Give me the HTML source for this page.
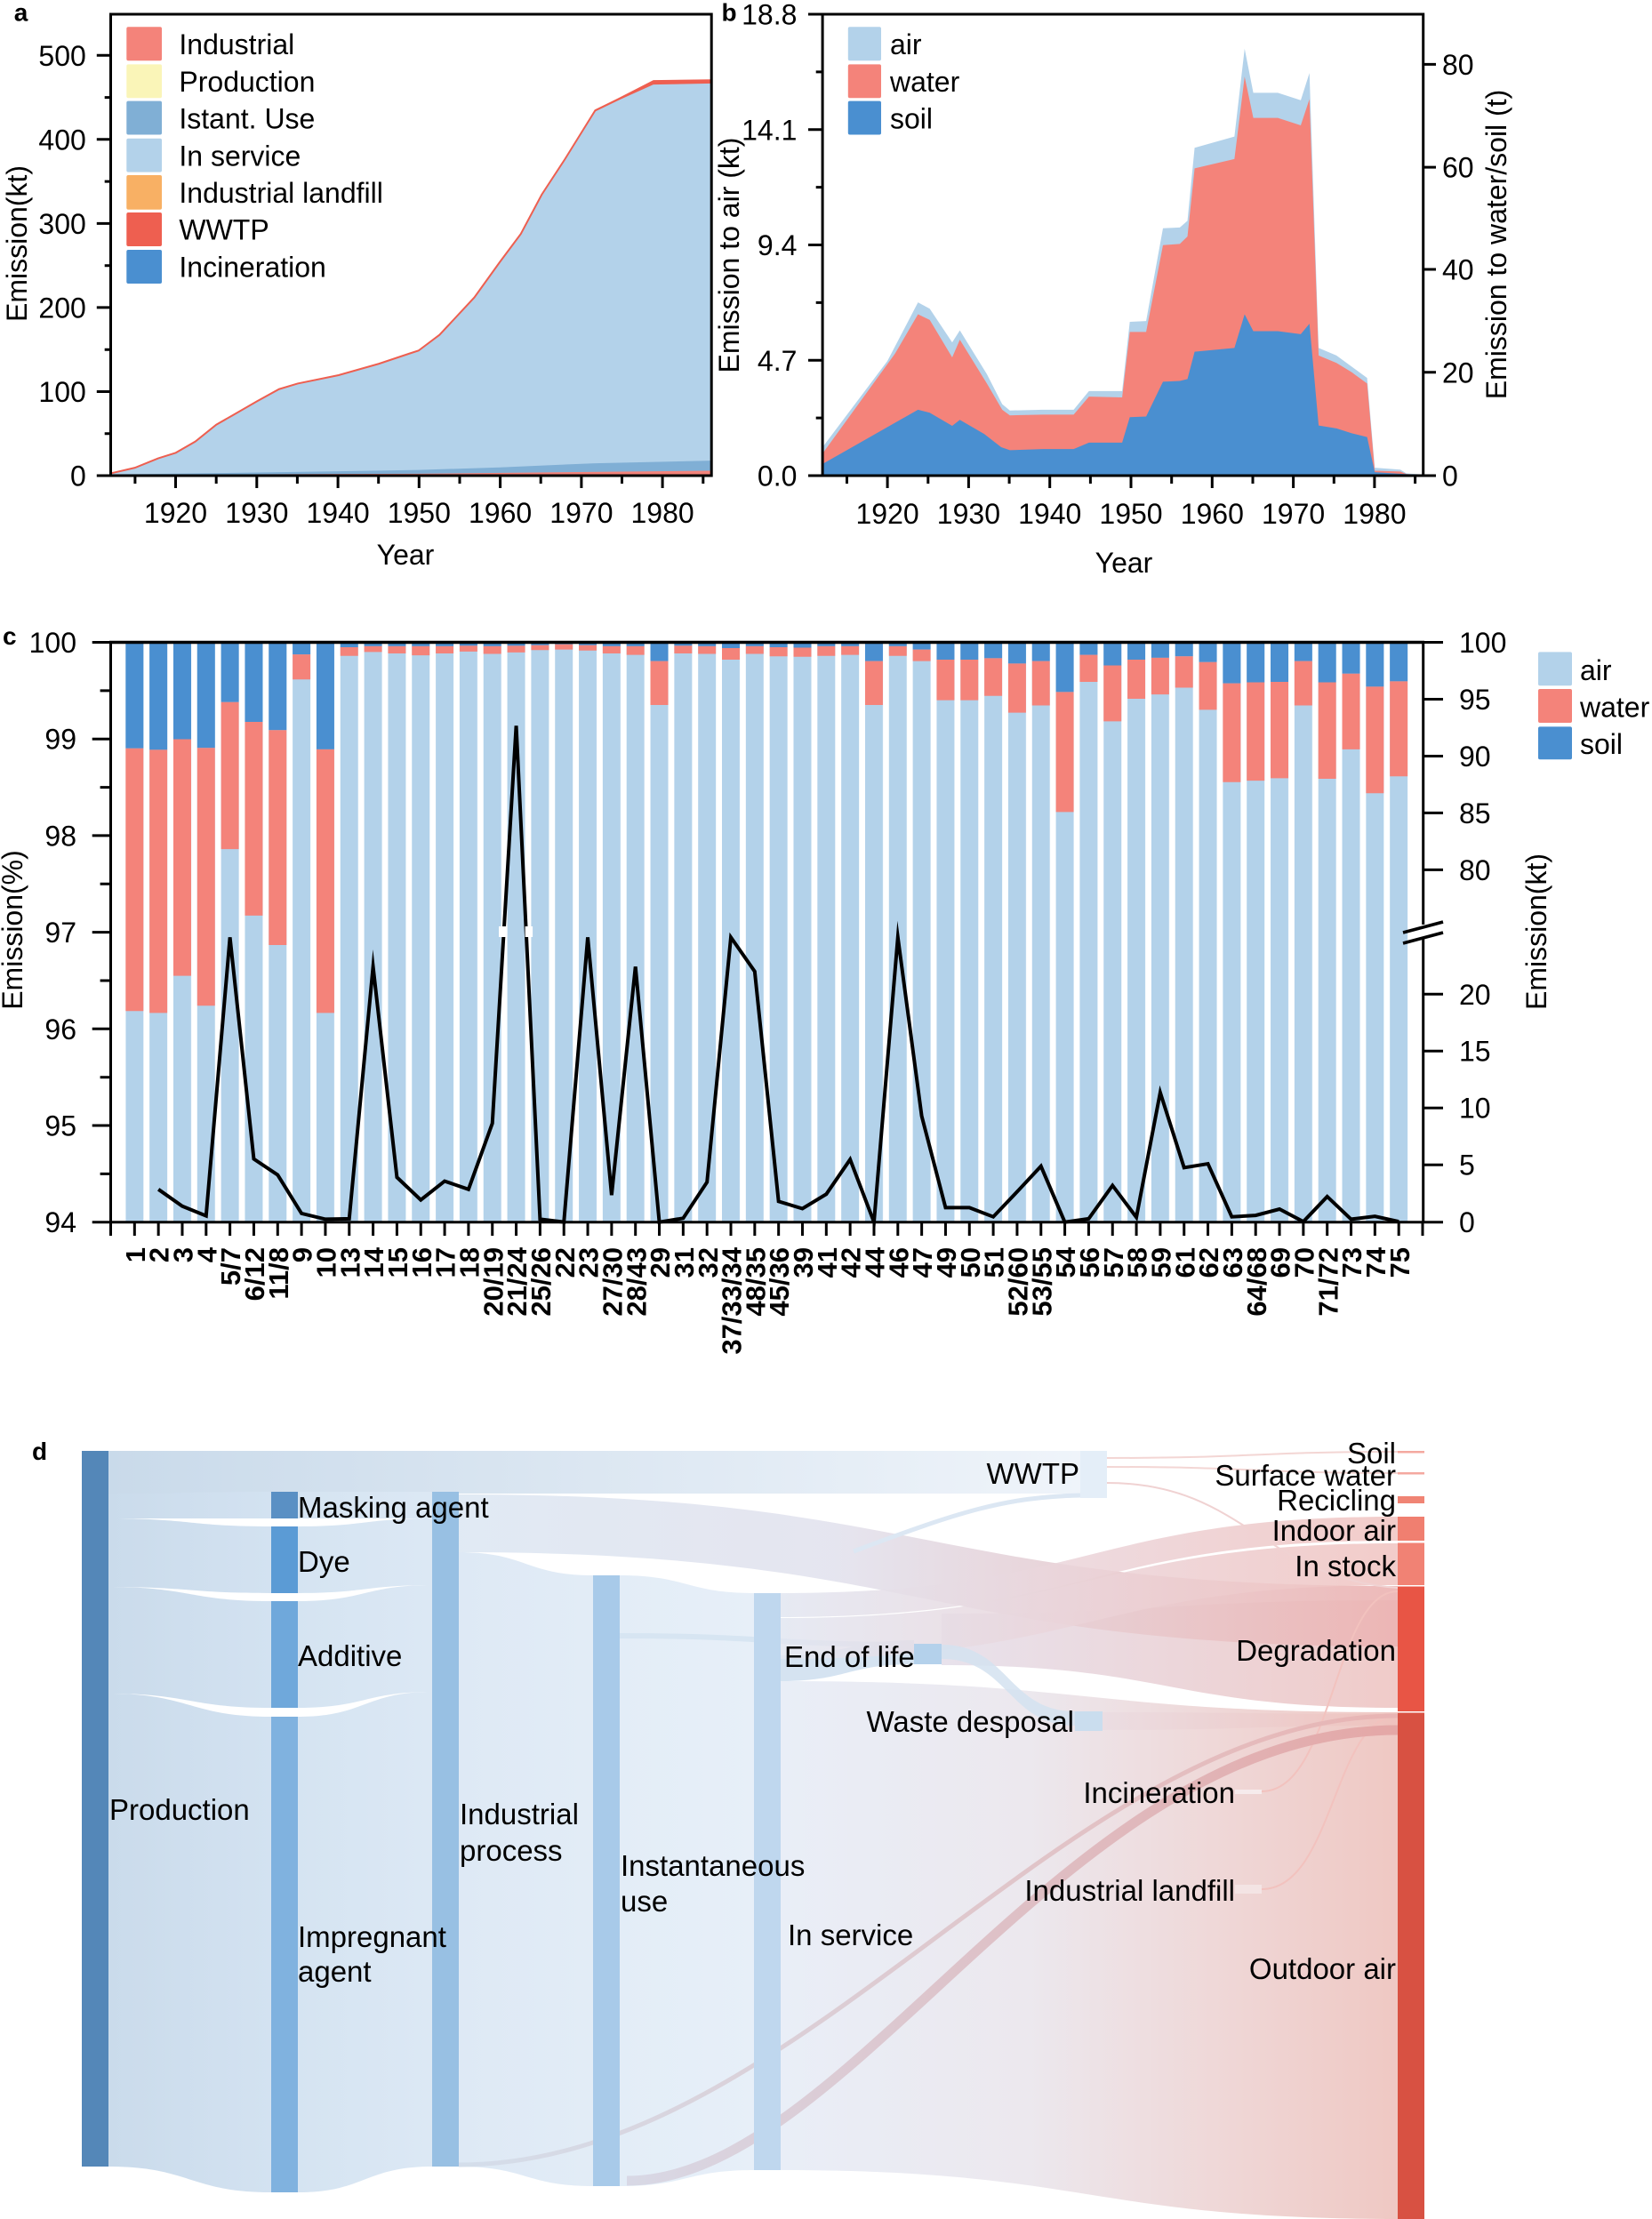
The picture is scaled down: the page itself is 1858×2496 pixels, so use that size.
<!DOCTYPE html>
<html>
<head>
<meta charset="utf-8">
<style>
html,body{margin:0;padding:0;background:#fff;}
body{width:1858px;height:2496px;overflow:hidden;}
svg{display:block;}
</style>
</head>
<body>
<svg width="1858" height="2496" viewBox="0 0 1858 2496" xmlns="http://www.w3.org/2000/svg" font-family="'Liberation Sans', Arial, sans-serif" font-size="32" fill="#000">
<defs>
<pattern id="bp" patternUnits="userSpaceOnUse" x="141.33" y="0" width="26.8273" height="10"><rect x="0" y="0" width="20" height="10" fill="#B3D2EA"/></pattern>
<linearGradient id="gWW" gradientUnits="userSpaceOnUse" x1="122" y1="0" x2="1215" y2="0"><stop offset="0" stop-color="#C9DAEA"/><stop offset="1" stop-color="#EFF4FA"/></linearGradient>
<linearGradient id="gP" gradientUnits="userSpaceOnUse" x1="122" y1="0" x2="305" y2="0"><stop offset="0" stop-color="#CADBEB"/><stop offset="1" stop-color="#D3E2F1"/></linearGradient>
<linearGradient id="gC1" gradientUnits="userSpaceOnUse" x1="335" y1="0" x2="486" y2="0"><stop offset="0" stop-color="#D5E4F2"/><stop offset="1" stop-color="#DCE8F4"/></linearGradient>
<linearGradient id="gIP" gradientUnits="userSpaceOnUse" x1="516" y1="0" x2="667" y2="0"><stop offset="0" stop-color="#DEE9F5"/><stop offset="1" stop-color="#E2ECF6"/></linearGradient>
<linearGradient id="gIU" gradientUnits="userSpaceOnUse" x1="697" y1="0" x2="848" y2="0"><stop offset="0" stop-color="#E3EDF7"/><stop offset="1" stop-color="#E7EFF8"/></linearGradient>
<linearGradient id="gMask" gradientUnits="userSpaceOnUse" x1="516" y1="0" x2="1572" y2="0"><stop offset="0" stop-color="#DEE8F3"/><stop offset="0.4" stop-color="#E3E3EE"/><stop offset="0.7" stop-color="#E8CBCF"/><stop offset="1" stop-color="#ECB4B3"/></linearGradient>
<linearGradient id="gIn" gradientUnits="userSpaceOnUse" x1="878" y1="0" x2="1572" y2="0"><stop offset="0" stop-color="#E2E6F1"/><stop offset="0.5" stop-color="#EBD3D8"/><stop offset="1" stop-color="#F0C3C0"/></linearGradient>
<linearGradient id="gDeg" gradientUnits="userSpaceOnUse" x1="1059" y1="0" x2="1572" y2="0"><stop offset="0" stop-color="#E8E2EC"/><stop offset="1" stop-color="#F0CBC9"/></linearGradient>
<linearGradient id="gOut" gradientUnits="userSpaceOnUse" x1="878" y1="0" x2="1572" y2="0"><stop offset="0" stop-color="#E9EEF7"/><stop offset="0.4" stop-color="#ECE8EE"/><stop offset="0.7" stop-color="#EFD8D8"/><stop offset="1" stop-color="#EFC8C3"/></linearGradient>
<linearGradient id="gWaste" gradientUnits="userSpaceOnUse" x1="1240" y1="0" x2="1572" y2="0"><stop offset="0" stop-color="#EBDDE2"/><stop offset="1" stop-color="#EFC2BD"/></linearGradient>
<linearGradient id="gRib" gradientUnits="userSpaceOnUse" x1="697" y1="0" x2="1572" y2="0"><stop offset="0" stop-color="#D8D9E6"/><stop offset="1" stop-color="#E4A7A6"/></linearGradient>
<linearGradient id="gRib2" gradientUnits="userSpaceOnUse" x1="516" y1="0" x2="1572" y2="0"><stop offset="0" stop-color="#D4DEEB"/><stop offset="1" stop-color="#E8B4B3"/></linearGradient>
</defs>

<!-- ================= PANEL A ================= -->
<g transform="scale(0.523,0.4209)">
  <path d="M238,1271 L238,1265 L290,1250 L340,1225 L378,1210 L420,1180 L465,1135 L500,1110 L553,1072 L600,1040 L640,1025 L727,1003 L815,972 L880,945 L900,937 L945,895 L1020,795 L1075,700 L1120,625 L1165,520 L1215,425 L1280,295 L1330,265 L1405,220 L1530,217 L1530,1271 Z" fill="#B3D2EA"/>
  <polyline points="238,1265 290,1250 340,1225 378,1210 420,1180 465,1135 500,1110 553,1072 600,1040 640,1025 727,1003 815,972 880,945 900,937 945,895 1020,795 1075,700 1120,625 1165,520 1215,425 1280,295 1330,265 1405,220 1530,217" fill="none" stroke="#EE5F50" stroke-width="2" vector-effect="non-scaling-stroke"/>
  <path d="M1280,293 L1330,262 L1405,214 L1530,212 L1530,223 L1405,226 L1330,268 L1280,298 Z" fill="#EE5F50"/>
  <path d="M238,1271 L238,1268 L600,1262 L900,1256 L1075,1249 L1280,1238 L1530,1231 L1530,1271 Z" fill="#80AFD5"/>
  <path d="M238,1271 L238,1269 L900,1266 L1530,1258 L1530,1271 Z" fill="#F4837A"/>
</g>
<rect x="124.5" y="16" width="675.7" height="519" fill="none" stroke="#000" stroke-width="3"/>
<path d="M108.8,535H124.5M108.8,440.5H124.5M108.8,345.9H124.5M108.8,251.4H124.5M108.8,156.8H124.5M108.8,62.3H124.5M117.7,487.7H124.5M117.7,393.2H124.5M117.7,298.7H124.5M117.7,204.1H124.5M117.7,109.6H124.5" stroke="#000" stroke-width="3"/>
<path d="M197.5,535V549M288.8,535V549M380.1,535V549M471.3,535V549M562.6,535V549M653.9,535V549M745.1,535V549M151.9,535V544M243.2,535V544M334.4,535V544M425.7,535V544M517,535V544M608.2,535V544M699.5,535V544M790.8,535V544" stroke="#000" stroke-width="3"/>
<g text-anchor="end">
  <text x="96.8" y="73.8">500</text>
  <text x="96.8" y="168.3">400</text>
  <text x="96.8" y="262.9">300</text>
  <text x="96.8" y="357.4">200</text>
  <text x="96.8" y="452">100</text>
  <text x="96.8" y="546.5">0</text>
</g>
<g text-anchor="middle">
  <text x="197.5" y="588">1920</text>
  <text x="288.8" y="588">1930</text>
  <text x="380.1" y="588">1940</text>
  <text x="471.3" y="588">1950</text>
  <text x="562.6" y="588">1960</text>
  <text x="653.9" y="588">1970</text>
  <text x="745.1" y="588">1980</text>
  <text x="456" y="635">Year</text>
  <text transform="translate(30,274) rotate(-90)">Emission(kt)</text>
</g>
<text x="15.7" y="23.5" font-size="28" font-weight="bold">a</text>
<g>
  <rect x="142.3" y="30.3" width="39.7" height="37.9" rx="2" fill="#F4837A"/>
  <rect x="142.3" y="72.4" width="39.7" height="37.9" rx="2" fill="#FAF5B8"/>
  <rect x="142.3" y="113.6" width="39.7" height="37.9" rx="2" fill="#80AFD5"/>
  <rect x="142.3" y="155.7" width="39.7" height="37.9" rx="2" fill="#B3D2EA"/>
  <rect x="142.3" y="197" width="39.7" height="38.7" rx="2" fill="#F8B064"/>
  <rect x="142.3" y="239" width="39.7" height="38" rx="2" fill="#EE5F50"/>
  <rect x="142.3" y="281" width="39.7" height="38" rx="2" fill="#4A8FD0"/>
  <text x="201.4" y="61">Industrial</text>
  <text x="201.4" y="103">Production</text>
  <text x="201.4" y="144.3">Istant. Use</text>
  <text x="201.4" y="186.3">In service</text>
  <text x="201.4" y="228">Industrial landfill</text>
  <text x="201.4" y="269.7">WWTP</text>
  <text x="201.4" y="311.7">Incineration</text>
</g>

<!-- ================= PANEL B ================= -->
<g transform="translate(800,0) scale(0.574,0.4209)">
  <polygon points="218,1271 218,1195 345,965 405,808 428,825 472,915 487,883 540,1000 570,1080 585,1097 650,1095 710,1095 740,1045 805,1045 820,860 852,858 885,610 918,608 933,590 947,395 1025,365 1045,130 1062,248 1110,248 1155,268 1172,195 1190,930 1225,950 1255,980 1285,1010 1300,1250 1350,1255 1362,1265 1395,1268 1395,1271" fill="#B3D2EA"/>
  <polygon points="218,1271 218,1212 360,945 405,840 428,855 472,955 487,908 540,1025 570,1095 585,1110 650,1108 710,1108 740,1060 805,1062 820,887 852,887 885,655 918,652 933,632 947,450 1025,425 1045,205 1062,315 1110,315 1155,335 1172,265 1190,950 1225,970 1255,995 1285,1025 1300,1258 1350,1260 1362,1267 1395,1269 1395,1271" fill="#F4837A"/>
  <polygon points="218,1271 218,1240 405,1095 428,1103 472,1138 487,1122 535,1160 568,1195 585,1203 650,1200 710,1200 740,1183 805,1183 820,1115 852,1113 885,1020 918,1018 933,1013 947,940 1025,930 1045,840 1062,885 1110,885 1155,893 1172,865 1190,1137 1225,1145 1255,1158 1285,1168 1300,1262 1395,1270 1395,1271" fill="#4A8FD0"/>
</g>
<rect x="925.1" y="16" width="675.6" height="519" fill="none" stroke="#000" stroke-width="3"/>
<path d="M909,535H925.1M909,405.25H925.1M909,275.5H925.1M909,145.75H925.1M909,16H925.1M917.7,470.1H925.1M917.7,340.4H925.1M917.7,210.6H925.1M917.7,80.9H925.1" stroke="#000" stroke-width="3"/>
<path d="M1600.7,535H1615M1600.7,418.8H1615M1600.7,303H1615M1600.7,188.1H1615M1600.7,72.4H1615" stroke="#000" stroke-width="3"/>
<path d="M998.1,535V549M1089.4,535V549M1180.7,535V549M1272,535V549M1363.3,535V549M1454.6,535V549M1545.9,535V549M952.5,535V544M1043.8,535V544M1135.1,535V544M1226.4,535V544M1317.7,535V544M1409,535V544M1500.3,535V544M1591.6,535V544" stroke="#000" stroke-width="3"/>
<g text-anchor="end">
  <text x="896.4" y="27.5">18.8</text>
  <text x="896.4" y="157.3">14.1</text>
  <text x="896.4" y="287">9.4</text>
  <text x="896.4" y="416.8">4.7</text>
  <text x="896.4" y="546.5">0.0</text>
</g>
<g>
  <text x="1622" y="83.9">80</text>
  <text x="1622" y="199.6">60</text>
  <text x="1622" y="314.5">40</text>
  <text x="1622" y="430.3">20</text>
  <text x="1622" y="546.5">0</text>
</g>
<g text-anchor="middle">
  <text x="998.1" y="589">1920</text>
  <text x="1089.4" y="589">1930</text>
  <text x="1180.7" y="589">1940</text>
  <text x="1272" y="589">1950</text>
  <text x="1363.3" y="589">1960</text>
  <text x="1454.6" y="589">1970</text>
  <text x="1545.9" y="589">1980</text>
  <text x="1264" y="644">Year</text>
  <text transform="translate(831,287) rotate(-90)">Emission to air (kt)</text>
  <text transform="translate(1694,275) rotate(-90)">Emission to water/soil (t)</text>
</g>
<text x="811.5" y="23.5" font-size="28" font-weight="bold">b</text>
<g>
  <rect x="953.8" y="30.3" width="37.2" height="37.9" rx="2" fill="#B3D2EA"/>
  <rect x="953.8" y="72.4" width="37.2" height="37.9" rx="2" fill="#F4837A"/>
  <rect x="953.8" y="113.6" width="37.2" height="37.9" rx="2" fill="#4A8FD0"/>
  <text x="1001" y="61">air</text>
  <text x="1001" y="103">water</text>
  <text x="1001" y="144.3">soil</text>
</g>

<!-- ================= PANEL C ================= -->
<rect x="141.33" y="722.5" width="1442" height="652.2" fill="url(#bp)"/>
<g transform="translate(124.5,690) scale(26.8273,0.5421)">
  <path fill="#4A8FD0" d="M0.627,60h.745v220h-.745zM1.627,60h.745v223h-.745zM2.627,60h.745v201h-.745zM3.627,60h.745v219h-.745zM4.627,60h.745v124h-.745zM5.627,60h.745v165h-.745zM6.627,60h.745v182h-.745zM7.627,60h.745v25h-.745zM8.627,60h.745v222h-.745zM9.627,60h.745v10h-.745zM10.627,60h.745v8h-.745zM11.627,60h.745v8h-.745zM12.627,60h.745v8h-.745zM13.627,60h.745v8h-.745zM14.627,60h.745v7h-.745zM15.627,60h.745v8h-.745zM16.627,60h.745v7h-.745zM17.627,60h.745v6h-.745zM18.627,60h.745v4h-.745zM19.627,60h.745v6h-.745zM20.627,60h.745v8h-.745zM21.627,60h.745v8h-.745zM22.627,60h.745v39h-.745zM23.627,60h.745v7h-.745zM24.627,60h.745v8h-.745zM25.627,60h.745v12h-.745zM26.627,60h.745v8h-.745zM27.627,60h.745v10h-.745zM28.627,60h.745v11h-.745zM29.627,60h.745v8h-.745zM30.627,60h.745v8h-.745zM31.627,60h.745v39h-.745zM32.627,60h.745v8h-.745zM33.627,60h.745v15h-.745zM34.627,60h.745v36h-.745zM35.627,60h.745v36h-.745zM36.627,60h.745v33h-.745zM37.627,60h.745v44h-.745zM38.627,60h.745v39h-.745zM39.627,60h.745v103h-.745zM40.627,60h.745v26h-.745zM41.627,60h.745v48h-.745zM42.627,60h.745v36h-.745zM43.627,60h.745v32h-.745zM44.627,60h.745v29h-.745zM45.627,60h.745v41h-.745zM46.627,60h.745v85h-.745zM47.627,60h.745v83h-.745zM48.627,60h.745v82h-.745zM49.627,60h.745v39h-.745zM50.627,60h.745v83h-.745zM51.627,60h.745v65h-.745zM52.627,60h.745v92h-.745zM53.627,60h.745v81h-.745z"/>
  <path fill="#F4837A" d="M0.627,280h.745v545h-.745zM1.627,283h.745v546h-.745zM2.627,261h.745v491h-.745zM3.627,279h.745v535h-.745zM4.627,184h.745v305h-.745zM5.627,225h.745v402h-.745zM6.627,242h.745v446h-.745zM7.627,85h.745v52h-.745zM8.627,282h.745v547h-.745zM9.627,70h.745v18h-.745zM10.627,68h.745v12h-.745zM11.627,68h.745v15h-.745zM12.627,68h.745v19h-.745zM13.627,68h.745v15h-.745zM14.627,67h.745v12h-.745zM15.627,68h.745v16h-.745zM16.627,67h.745v14h-.745zM17.627,66h.745v10h-.745zM18.627,64h.745v11h-.745zM19.627,66h.745v11h-.745zM20.627,68h.745v15h-.745zM21.627,68h.745v18h-.745zM22.627,99h.745v91h-.745zM23.627,67h.745v16h-.745zM24.627,68h.745v16h-.745zM25.627,72h.745v24h-.745zM26.627,68h.745v16h-.745zM27.627,70h.745v19h-.745zM28.627,71h.745v19h-.745zM29.627,68h.745v20h-.745zM30.627,68h.745v18h-.745zM31.627,99h.745v91h-.745zM32.627,68h.745v20h-.745zM33.627,75h.745v24h-.745zM34.627,96h.745v84h-.745zM35.627,96h.745v84h-.745zM36.627,93h.745v78h-.745zM37.627,104h.745v102h-.745zM38.627,99h.745v92h-.745zM39.627,163h.745v249h-.745zM40.627,86h.745v56h-.745zM41.627,108h.745v116h-.745zM42.627,96h.745v81h-.745zM43.627,92h.745v76h-.745zM44.627,89h.745v65h-.745zM45.627,101h.745v99h-.745zM46.627,145h.745v205h-.745zM47.627,143h.745v204h-.745zM48.627,142h.745v200h-.745zM49.627,99h.745v92h-.745zM50.627,143h.745v200h-.745zM51.627,125h.745v157h-.745zM52.627,152h.745v221h-.745zM53.627,141h.745v197h-.745z"/>
  <polyline fill="none" stroke="#000" stroke-width="4" stroke-linejoin="miter" stroke-miterlimit="10" vector-effect="non-scaling-stroke" points="2,1195 3,1230 4,1250 5,672 6,1132 7,1165 8,1245 9,1257 10,1256 11,733 12,1170 13,1217 14,1178 15,1195 16,1058 17,233 18,1257 19,1263 20,672 21,1207 22,733 23,1263 24,1255 25,1180 26,672 27,743 28,1220 29,1235 30,1205 31,1133 32,1263 33,672 34,1043 35,1233 36,1233 37,1252 38,1200 39,1147 40,1263 41,1256 42,1187 43,1253 44,994 45,1150 46,1142 47,1252 48,1249 49,1236 50,1262 51,1210 52,1257 53,1251 54,1262"/>
</g>
<rect x="561" y="1042" width="9.6" height="12" fill="#fff"/>
<rect x="590.6" y="1042" width="8.5" height="12" fill="#fff"/>
<!-- axes c -->
<path d="M124.5,722.5V1374.7H1600.7" fill="none" stroke="#000" stroke-width="3"/>
<path d="M123,722.5H1602" stroke="#000" stroke-width="3.5"/>
<path d="M1600.7,721V1040M1600.7,1056V1375" stroke="#000" stroke-width="3"/>
<path d="M1578,1049L1623,1037M1578,1061L1623,1049" stroke="#000" stroke-width="3.5"/>
<path d="M103.7,722.5H124.5M103.7,831.2H124.5M103.7,939.9H124.5M103.7,1048.6H124.5M103.7,1157.3H124.5M103.7,1266H124.5M103.7,1374.7H124.5M112.6,776.9H124.5M112.6,885.6H124.5M112.6,994.3H124.5M112.6,1103H124.5M112.6,1211.7H124.5M112.6,1320.4H124.5" stroke="#000" stroke-width="3"/>
<path d="M1600.7,722.5H1623M1600.7,786.5H1623M1600.7,850.5H1623M1600.7,914.4H1623M1600.7,978.4H1623M1600.7,1118.3H1623M1600.7,1182.2H1623M1600.7,1246.2H1623M1600.7,1310.2H1623M1600.7,1374.7H1623" stroke="#000" stroke-width="3"/>
<g transform="translate(124.5,1375) scale(26.8273,1)">
  <path d="M0,0v15M1,0v15M2,0v15M3,0v15M4,0v15M5,0v15M6,0v15M7,0v15M8,0v15M9,0v15M10,0v15M11,0v15M12,0v15M13,0v15M14,0v15M15,0v15M16,0v15M17,0v15M18,0v15M19,0v15M20,0v15M21,0v15M22,0v15M23,0v15M24,0v15M25,0v15M26,0v15M27,0v15M28,0v15M29,0v15M30,0v15M31,0v15M32,0v15M33,0v15M34,0v15M35,0v15M36,0v15M37,0v15M38,0v15M39,0v15M40,0v15M41,0v15M42,0v15M43,0v15M44,0v15M45,0v15M46,0v15M47,0v15M48,0v15M49,0v15M50,0v15M51,0v15M52,0v15M53,0v15M54,0v15M55,0v15" stroke="#000" stroke-width="3" vector-effect="non-scaling-stroke"/>
</g>
<g text-anchor="end">
  <text x="86" y="734">100</text>
  <text x="86" y="842.7">99</text>
  <text x="86" y="951.4">98</text>
  <text x="86" y="1060.1">97</text>
  <text x="86" y="1168.8">96</text>
  <text x="86" y="1277.5">95</text>
  <text x="86" y="1386.2">94</text>
</g>
<g>
  <text x="1641" y="734">100</text>
  <text x="1641" y="798">95</text>
  <text x="1641" y="862">90</text>
  <text x="1641" y="926">85</text>
  <text x="1641" y="990">80</text>
  <text x="1641" y="1129.8">20</text>
  <text x="1641" y="1193.7">15</text>
  <text x="1641" y="1257.7">10</text>
  <text x="1641" y="1321.7">5</text>
  <text x="1641" y="1386.2">0</text>
</g>
<g text-anchor="middle">
  <text transform="translate(25,1046) rotate(-90)">Emission(%)</text>
  <text transform="translate(1739,1048) rotate(-90)">Emission(kt)</text>
</g>
<text x="3" y="725" font-size="28" font-weight="bold">c</text>
<g>
  <rect x="1730" y="733.4" width="38" height="37.9" rx="2" fill="#B3D2EA"/>
  <rect x="1730" y="775" width="38" height="38" rx="2" fill="#F4837A"/>
  <rect x="1730" y="817.4" width="38" height="36.9" rx="2" fill="#4A8FD0"/>
  <text x="1777" y="765">air</text>
  <text x="1777" y="806.5">water</text>
  <text x="1777" y="848">soil</text>
</g>
<g text-anchor="end" font-weight="bold" font-size="31">
  <text transform="translate(162.8,1403) rotate(-90)">1</text>
  <text transform="translate(189.7,1403) rotate(-90)">2</text>
  <text transform="translate(216.5,1403) rotate(-90)">3</text>
  <text transform="translate(243.3,1403) rotate(-90)">4</text>
  <text transform="translate(270.2,1403) rotate(-90)">5/7</text>
  <text transform="translate(297,1403) rotate(-90)">6/12</text>
  <text transform="translate(323.8,1403) rotate(-90)">11/8</text>
  <text transform="translate(350.6,1403) rotate(-90)">9</text>
  <text transform="translate(377.5,1403) rotate(-90)">10</text>
  <text transform="translate(404.3,1403) rotate(-90)">13</text>
  <text transform="translate(431.1,1403) rotate(-90)">14</text>
  <text transform="translate(458,1403) rotate(-90)">15</text>
  <text transform="translate(484.8,1403) rotate(-90)">16</text>
  <text transform="translate(511.6,1403) rotate(-90)">17</text>
  <text transform="translate(538.5,1403) rotate(-90)">18</text>
  <text transform="translate(565.3,1403) rotate(-90)">20/19</text>
  <text transform="translate(592.1,1403) rotate(-90)">21/24</text>
  <text transform="translate(618.9,1403) rotate(-90)">25/26</text>
  <text transform="translate(645.8,1403) rotate(-90)">22</text>
  <text transform="translate(672.6,1403) rotate(-90)">23</text>
  <text transform="translate(699.4,1403) rotate(-90)">27/30</text>
  <text transform="translate(726.3,1403) rotate(-90)">28/43</text>
  <text transform="translate(753.1,1403) rotate(-90)">29</text>
  <text transform="translate(779.9,1403) rotate(-90)">31</text>
  <text transform="translate(806.8,1403) rotate(-90)">32</text>
  <text transform="translate(833.6,1403) rotate(-90)">37/33/34</text>
  <text transform="translate(860.4,1403) rotate(-90)">48/35</text>
  <text transform="translate(887.2,1403) rotate(-90)">45/36</text>
  <text transform="translate(914.1,1403) rotate(-90)">39</text>
  <text transform="translate(940.9,1403) rotate(-90)">41</text>
  <text transform="translate(967.7,1403) rotate(-90)">42</text>
  <text transform="translate(994.6,1403) rotate(-90)">44</text>
  <text transform="translate(1021.4,1403) rotate(-90)">46</text>
  <text transform="translate(1048.2,1403) rotate(-90)">47</text>
  <text transform="translate(1075.1,1403) rotate(-90)">49</text>
  <text transform="translate(1101.9,1403) rotate(-90)">50</text>
  <text transform="translate(1128.7,1403) rotate(-90)">51</text>
  <text transform="translate(1155.5,1403) rotate(-90)">52/60</text>
  <text transform="translate(1182.4,1403) rotate(-90)">53/55</text>
  <text transform="translate(1209.2,1403) rotate(-90)">54</text>
  <text transform="translate(1236,1403) rotate(-90)">56</text>
  <text transform="translate(1262.9,1403) rotate(-90)">57</text>
  <text transform="translate(1289.7,1403) rotate(-90)">58</text>
  <text transform="translate(1316.5,1403) rotate(-90)">59</text>
  <text transform="translate(1343.4,1403) rotate(-90)">61</text>
  <text transform="translate(1370.2,1403) rotate(-90)">62</text>
  <text transform="translate(1397,1403) rotate(-90)">63</text>
  <text transform="translate(1423.8,1403) rotate(-90)">64/68</text>
  <text transform="translate(1450.7,1403) rotate(-90)">69</text>
  <text transform="translate(1477.5,1403) rotate(-90)">70</text>
  <text transform="translate(1504.3,1403) rotate(-90)">71/72</text>
  <text transform="translate(1531.2,1403) rotate(-90)">73</text>
  <text transform="translate(1558,1403) rotate(-90)">74</text>
  <text transform="translate(1584.8,1403) rotate(-90)">75</text>
</g>

<!-- ================= PANEL D (Sankey) ================= -->
<g>
  <!-- Production to column 2 -->
  <path d="M122,1632H1215V1680H122Z" fill="url(#gWW)"/>
  <path d="M122,1680C213.5,1680 213.5,1678 305,1678V1708H122Z" fill="url(#gP)"/>
  <path d="M122,1708C213.5,1708 213.5,1717 305,1717V1792C213.5,1792 213.5,1785 122,1785Z" fill="url(#gP)"/>
  <path d="M122,1785C213.5,1785 213.5,1801 305,1801V1921C213.5,1921 213.5,1905 122,1905Z" fill="url(#gP)"/>
  <path d="M122,1905C213.5,1905 213.5,1931 305,1931V2466C213.5,2466 213.5,2437 122,2437Z" fill="url(#gP)"/>
  <!-- column 2 to industrial process -->
  <path d="M335,1678H486V1708H335Z" fill="url(#gC1)"/>
  <path d="M335,1717C410.5,1717 410.5,1708 486,1708V1783C410.5,1783 410.5,1792 335,1792Z" fill="url(#gC1)"/>
  <path d="M335,1801C410.5,1801 410.5,1783 486,1783V1903C410.5,1903 410.5,1921 335,1921Z" fill="url(#gC1)"/>
  <path d="M335,1931C410.5,1931 410.5,1903 486,1903V2437C410.5,2437 410.5,2466 335,2466Z" fill="url(#gC1)"/>
  <!-- IP to IU, IU to In service -->
  <path d="M516,1746C591.5,1746 591.5,1772 667,1772V2459C591.5,2459 591.5,2437 516,2437Z" fill="url(#gIP)"/>
  <path d="M697,1772C772.5,1772 772.5,1792 848,1792V2441C772.5,2441 772.5,2459 697,2459Z" fill="url(#gIU)"/>
  <path d="M697,1840C862,1840 862,1850 1028,1850" fill="none" stroke="#D7E5F2" stroke-width="6"/>
  <!-- In service to outdoor air -->
  <path d="M878,1891C1225,1891 1225,1926 1572,1926V2496C1225,2496 1225,2441 878,2441Z" fill="url(#gOut)"/>
  <!-- waste disposal to outdoor -->
  <path d="M1240,1926C1406,1926 1406,1928 1572,1928V1941C1406,1941 1406,1946 1240,1946Z" fill="url(#gWaste)"/>
  <!-- End of life to degradation -->
  <path d="M1059,1815C1315,1815 1315,1800 1572,1800V1921C1315,1921 1315,1873 1059,1873Z" fill="url(#gDeg)"/>
  <!-- In service to end of life -->
  <path d="M878,1862C953,1862 953,1845 1028,1845V1872C953,1872 953,1891 878,1891Z" fill="#D5E3F1"/>
  <!-- masking band to degradation -->
  <path d="M516,1681C1044,1681 1044,1784 1572,1784V1852C1044,1852 1044,1746 516,1746Z" fill="url(#gMask)" fill-opacity="0.92"/>
  <!-- In service to indoor air / in stock -->
  <path d="M878,1792C1225,1792 1225,1706 1572,1706V1733C1225,1733 1225,1819 878,1819Z" fill="url(#gIn)" fill-opacity="0.85"/>
  <path d="M878,1820C1225,1820 1225,1736 1572,1736V1783C1225,1783 1225,1866 878,1866Z" fill="url(#gIn)" fill-opacity="0.85"/>
  <!-- End of life to waste disposal -->
  <path d="M1059,1850C1134,1850 1134,1925 1209,1925V1941C1134,1941 1134,1866 1059,1866Z" fill="#D3E2F0" fill-opacity="0.85"/>
  <!-- thin curves -->
  <path d="M960,1745C1080,1700 1130,1684 1215,1682" fill="none" stroke="#DCE7F3" stroke-width="5"/>
  <path d="M1245,1640C1410,1640 1410,1633 1572,1633" fill="none" stroke="#F3D6D4" stroke-width="2"/>
  <path d="M1245,1650C1410,1650 1410,1657 1572,1657" fill="none" stroke="#F3D6D4" stroke-width="2"/>
  <path d="M1245,1668C1400,1668 1420,1775 1572,1786" fill="none" stroke="#F0D2D2" stroke-width="2"/>
  <path d="M1419,2015C1500,2015 1500,1790 1572,1790" fill="none" stroke="#F2C2BE" stroke-width="2"/>
  <path d="M1419,2125C1500,2125 1500,1930 1572,1930" fill="none" stroke="#F2C2BE" stroke-width="2"/>
  <!-- ribbons from bottom -->
  <path d="M516,2435C900,2435 1200,1930 1572,1930" fill="none" stroke="url(#gRib2)" stroke-width="5"/>
  <path d="M705,2453C955,2453 1200,1946 1572,1946" fill="none" stroke="url(#gRib)" stroke-width="11"/>
  <!-- nodes -->
  <rect x="92" y="1632" width="30" height="805" fill="#5487B8"/>
  <rect x="305" y="1678" width="30" height="30" fill="#5A90C4"/>
  <rect x="305" y="1717" width="30" height="75" fill="#5B9BD5"/>
  <rect x="305" y="1801" width="30" height="120" fill="#6FA8DB"/>
  <rect x="305" y="1931" width="30" height="535" fill="#80B2DF"/>
  <rect x="486" y="1678" width="30" height="759" fill="#98C0E3"/>
  <rect x="667" y="1772" width="30" height="687" fill="#A8CAE9"/>
  <rect x="848" y="1792" width="30" height="649" fill="#BFD7EE"/>
  <rect x="1028" y="1849" width="31" height="23" fill="#B4D1EB"/>
  <rect x="1215" y="1632" width="30" height="53" fill="#E4EEF8"/>
  <rect x="1209" y="1925" width="31" height="22" fill="#CADDEE"/>
  <rect x="1389" y="2013" width="30" height="5" fill="#F6EBEC"/>
  <rect x="1389" y="2120" width="30" height="10" fill="#F4E4E4"/>
  <rect x="1572" y="1632" width="30" height="2.5" fill="#F4A9A0"/>
  <rect x="1572" y="1656" width="30" height="2.5" fill="#F4A9A0"/>
  <rect x="1572" y="1683" width="30" height="8" fill="#F08474"/>
  <rect x="1572" y="1706" width="30" height="27" fill="#F07F70"/>
  <rect x="1572" y="1735.5" width="30" height="47.5" fill="#F18274"/>
  <rect x="1572" y="1784.5" width="30" height="140.5" fill="#E85545"/>
  <rect x="1572" y="1926.5" width="30" height="569.5" fill="#D85142"/>
  <!-- labels -->
  <g font-size="33">
    <text x="335" y="1707">Masking agent</text>
    <text x="335" y="1768">Dye</text>
    <text x="335" y="1874">Additive</text>
    <text x="123" y="2047">Production</text>
    <text x="517" y="2052">Industrial</text>
    <text x="517" y="2093">process</text>
    <text x="335" y="2190">Impregnant</text>
    <text x="335" y="2229">agent</text>
    <text x="698" y="2110">Instantaneous</text>
    <text x="698" y="2150">use</text>
    <text x="886" y="2188">In service</text>
    <text x="882" y="1875">End of life</text>
    <g text-anchor="end">
      <text x="1214" y="1669">WWTP</text>
      <text x="1208" y="1948">Waste desposal</text>
      <text x="1389" y="2028">Incineration</text>
      <text x="1389" y="2138">Industrial landfill</text>
      <text x="1570" y="1646">Soil</text>
      <text x="1570" y="1671">Surface water</text>
      <text x="1570" y="1699">Recicling</text>
      <text x="1570" y="1733">Indoor air</text>
      <text x="1570" y="1773">In stock</text>
      <text x="1570" y="1868">Degradation</text>
      <text x="1570" y="2226">Outdoor air</text>
    </g>
  </g>
  <text x="36" y="1642" font-size="28" font-weight="bold">d</text>
</g>
</svg>
</body>
</html>
